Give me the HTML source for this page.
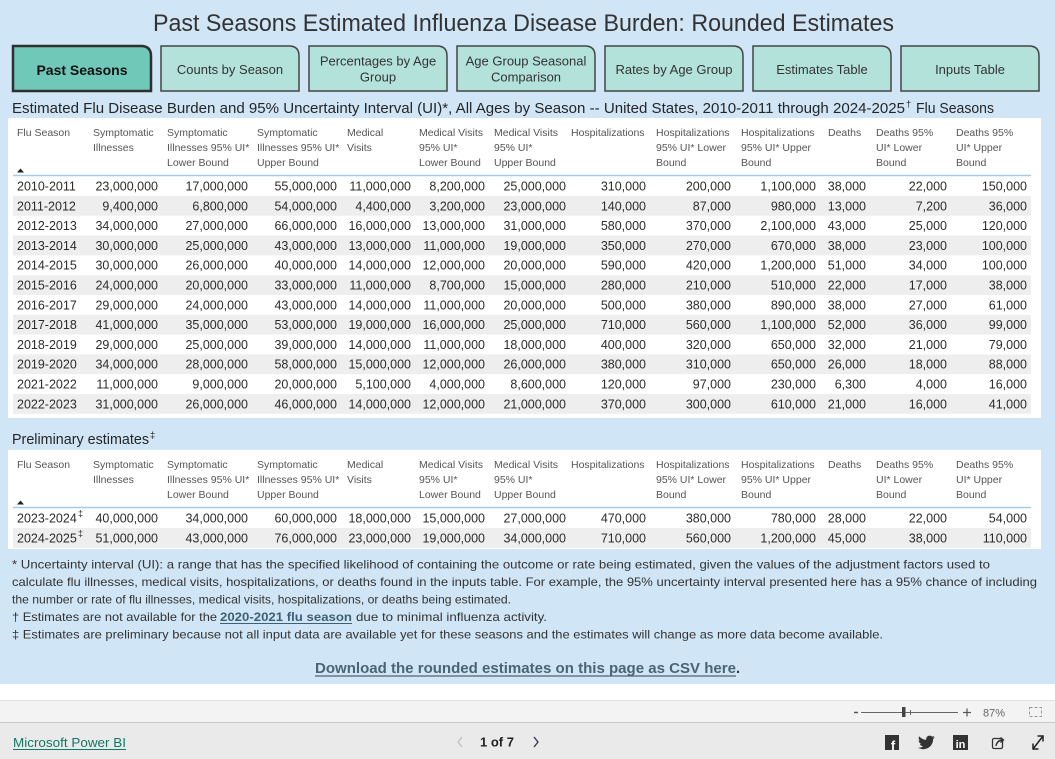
<!DOCTYPE html>
<html><head><meta charset="utf-8">
<style>
html,body{margin:0;padding:0;background:#fff;}
svg{display:block;}
text{font-family:"Liberation Sans",sans-serif;}
.h{font-size:10.5px;fill:#555;}
.d{font-size:12.5px;fill:#2b2b2b;}
.tab{font-size:13px;fill:#333;}
.fn{font-size:12px;fill:#333;}
</style></head><body>
<svg width="1055" height="759" viewBox="0 0 1055 759" xmlns="http://www.w3.org/2000/svg">
<rect x="0" y="0" width="1055" height="684" fill="#D0E5F5"/>
<rect x="0" y="684" width="1055" height="16" fill="#FFFFFF"/>
<rect x="0" y="700" width="1055" height="22" fill="#F3F3F3"/>
<line x1="0" y1="700.5" x2="1055" y2="700.5" stroke="#E0E0E0"/>
<line x1="0" y1="722.5" x2="1055" y2="722.5" stroke="#C8C8C8"/>
<rect x="0" y="723" width="1055" height="36" fill="#EAEAEA"/>

<!-- Title -->
<text x="153" y="31" font-size="24" fill="#333" textLength="741" lengthAdjust="spacingAndGlyphs">Past Seasons Estimated Influenza Disease Burden: Rounded Estimates</text>

<!-- Tabs -->
<path d="M13 46 H141 Q151 46 151 56 V91 H13 Z" fill="#70C8B8" stroke="#2f2f2f" stroke-width="2.5"/>
<path d="M161 46 H289 Q299 46 299 56 V91 H161 Z" fill="#B3E2DA" stroke="#444" stroke-width="1.5"/>
<path d="M309 46 H437 Q447 46 447 56 V91 H309 Z" fill="#B3E2DA" stroke="#444" stroke-width="1.5"/>
<path d="M457 46 H585 Q595 46 595 56 V91 H457 Z" fill="#B3E2DA" stroke="#444" stroke-width="1.5"/>
<path d="M605 46 H733 Q743 46 743 56 V91 H605 Z" fill="#B3E2DA" stroke="#444" stroke-width="1.5"/>
<path d="M753 46 H881 Q891 46 891 56 V91 H753 Z" fill="#B3E2DA" stroke="#444" stroke-width="1.5"/>
<path d="M901 46 H1029 Q1039 46 1039 56 V91 H901 Z" fill="#B3E2DA" stroke="#444" stroke-width="1.5"/>
<text x="82" y="75" font-size="14" font-weight="bold" fill="#111" text-anchor="middle">Past Seasons</text>
<g class="tab" text-anchor="middle">
<text x="230" y="74">Counts by Season</text>
<text x="378" y="65.5">Percentages by Age</text>
<text x="378" y="81.5">Group</text>
<text x="526" y="65.5">Age Group Seasonal</text>
<text x="526" y="81.5">Comparison</text>
<text x="674" y="74">Rates by Age Group</text>
<text x="822" y="74">Estimates Table</text>
<text x="970" y="74">Inputs Table</text>
</g>

<!-- Subtitle -->
<text x="12" y="113" font-size="14.5" fill="#252525" textLength="893" lengthAdjust="spacingAndGlyphs">Estimated Flu Disease Burden and 95% Uncertainty Interval (UI)*, All Ages by Season -- United States, 2010-2011 through 2024-2025</text>
<text x="906" y="107" font-size="9.5" fill="#252525">†</text>
<text x="916" y="113" font-size="14.5" fill="#252525" textLength="78" lengthAdjust="spacingAndGlyphs">Flu Seasons</text>

<!-- Table 1 panel -->
<rect x="8" y="118" width="1033" height="300" fill="#FFFFFF"/>
<g class="h">
<text x="17" y="136">Flu Season</text>
<text x="93" y="136">Symptomatic</text><text x="93" y="151">Illnesses</text>
<text x="167" y="136">Symptomatic</text><text x="167" y="151">Illnesses 95% UI*</text><text x="167" y="166">Lower Bound</text>
<text x="257" y="136">Symptomatic</text><text x="257" y="151">Illnesses 95% UI*</text><text x="257" y="166">Upper Bound</text>
<text x="347" y="136">Medical</text><text x="347" y="151">Visits</text>
<text x="419" y="136">Medical Visits</text><text x="419" y="151">95% UI*</text><text x="419" y="166">Lower Bound</text>
<text x="494" y="136">Medical Visits</text><text x="494" y="151">95% UI*</text><text x="494" y="166">Upper Bound</text>
<text x="571" y="136">Hospitalizations</text>
<text x="656" y="136">Hospitalizations</text><text x="656" y="151">95% UI* Lower</text><text x="656" y="166">Bound</text>
<text x="741" y="136">Hospitalizations</text><text x="741" y="151">95% UI* Upper</text><text x="741" y="166">Bound</text>
<text x="828" y="136">Deaths</text>
<text x="876" y="136">Deaths 95%</text><text x="876" y="151">UI* Lower</text><text x="876" y="166">Bound</text>
<text x="956" y="136">Deaths 95%</text><text x="956" y="151">UI* Upper</text><text x="956" y="166">Bound</text>
</g>
<polygon points="17,172.5 24,172.5 20.5,168.5" fill="#222"/>
<line x1="13" y1="175.5" x2="1031" y2="175.5" stroke="#A6CBEA" stroke-width="1.6"/>
<g fill="#EEEEEE">
<rect x="13" y="196" width="1018" height="19.8"/>
<rect x="13" y="235.6" width="1018" height="19.8"/>
<rect x="13" y="275.2" width="1018" height="19.8"/>
<rect x="13" y="314.8" width="1018" height="19.8"/>
<rect x="13" y="354.4" width="1018" height="19.8"/>
<rect x="13" y="394" width="1018" height="19.8"/>
</g>
<g class="d" text-anchor="end">
<g transform="translate(0,190.5)"><text x="17" text-anchor="start">2010-2011</text><text x="158">23,000,000</text><text x="248">17,000,000</text><text x="337">55,000,000</text><text x="411">11,000,000</text><text x="485">8,200,000</text><text x="566">25,000,000</text><text x="646">310,000</text><text x="731">200,000</text><text x="816">1,100,000</text><text x="866">38,000</text><text x="947">22,000</text><text x="1027">150,000</text></g>
<g transform="translate(0,210.3)"><text x="17" text-anchor="start">2011-2012</text><text x="158">9,400,000</text><text x="248">6,800,000</text><text x="337">54,000,000</text><text x="411">4,400,000</text><text x="485">3,200,000</text><text x="566">23,000,000</text><text x="646">140,000</text><text x="731">87,000</text><text x="816">980,000</text><text x="866">13,000</text><text x="947">7,200</text><text x="1027">36,000</text></g>
<g transform="translate(0,230.1)"><text x="17" text-anchor="start">2012-2013</text><text x="158">34,000,000</text><text x="248">27,000,000</text><text x="337">66,000,000</text><text x="411">16,000,000</text><text x="485">13,000,000</text><text x="566">31,000,000</text><text x="646">580,000</text><text x="731">370,000</text><text x="816">2,100,000</text><text x="866">43,000</text><text x="947">25,000</text><text x="1027">120,000</text></g>
<g transform="translate(0,249.9)"><text x="17" text-anchor="start">2013-2014</text><text x="158">30,000,000</text><text x="248">25,000,000</text><text x="337">43,000,000</text><text x="411">13,000,000</text><text x="485">11,000,000</text><text x="566">19,000,000</text><text x="646">350,000</text><text x="731">270,000</text><text x="816">670,000</text><text x="866">38,000</text><text x="947">23,000</text><text x="1027">100,000</text></g>
<g transform="translate(0,269.7)"><text x="17" text-anchor="start">2014-2015</text><text x="158">30,000,000</text><text x="248">26,000,000</text><text x="337">40,000,000</text><text x="411">14,000,000</text><text x="485">12,000,000</text><text x="566">20,000,000</text><text x="646">590,000</text><text x="731">420,000</text><text x="816">1,200,000</text><text x="866">51,000</text><text x="947">34,000</text><text x="1027">100,000</text></g>
<g transform="translate(0,289.5)"><text x="17" text-anchor="start">2015-2016</text><text x="158">24,000,000</text><text x="248">20,000,000</text><text x="337">33,000,000</text><text x="411">11,000,000</text><text x="485">8,700,000</text><text x="566">15,000,000</text><text x="646">280,000</text><text x="731">210,000</text><text x="816">510,000</text><text x="866">22,000</text><text x="947">17,000</text><text x="1027">38,000</text></g>
<g transform="translate(0,309.3)"><text x="17" text-anchor="start">2016-2017</text><text x="158">29,000,000</text><text x="248">24,000,000</text><text x="337">43,000,000</text><text x="411">14,000,000</text><text x="485">11,000,000</text><text x="566">20,000,000</text><text x="646">500,000</text><text x="731">380,000</text><text x="816">890,000</text><text x="866">38,000</text><text x="947">27,000</text><text x="1027">61,000</text></g>
<g transform="translate(0,329.1)"><text x="17" text-anchor="start">2017-2018</text><text x="158">41,000,000</text><text x="248">35,000,000</text><text x="337">53,000,000</text><text x="411">19,000,000</text><text x="485">16,000,000</text><text x="566">25,000,000</text><text x="646">710,000</text><text x="731">560,000</text><text x="816">1,100,000</text><text x="866">52,000</text><text x="947">36,000</text><text x="1027">99,000</text></g>
<g transform="translate(0,348.9)"><text x="17" text-anchor="start">2018-2019</text><text x="158">29,000,000</text><text x="248">25,000,000</text><text x="337">39,000,000</text><text x="411">14,000,000</text><text x="485">11,000,000</text><text x="566">18,000,000</text><text x="646">400,000</text><text x="731">320,000</text><text x="816">650,000</text><text x="866">32,000</text><text x="947">21,000</text><text x="1027">79,000</text></g>
<g transform="translate(0,368.7)"><text x="17" text-anchor="start">2019-2020</text><text x="158">34,000,000</text><text x="248">28,000,000</text><text x="337">58,000,000</text><text x="411">15,000,000</text><text x="485">12,000,000</text><text x="566">26,000,000</text><text x="646">380,000</text><text x="731">310,000</text><text x="816">650,000</text><text x="866">26,000</text><text x="947">18,000</text><text x="1027">88,000</text></g>
<g transform="translate(0,388.5)"><text x="17" text-anchor="start">2021-2022</text><text x="158">11,000,000</text><text x="248">9,000,000</text><text x="337">20,000,000</text><text x="411">5,100,000</text><text x="485">4,000,000</text><text x="566">8,600,000</text><text x="646">120,000</text><text x="731">97,000</text><text x="816">230,000</text><text x="866">6,300</text><text x="947">4,000</text><text x="1027">16,000</text></g>
<g transform="translate(0,408.3)"><text x="17" text-anchor="start">2022-2023</text><text x="158">31,000,000</text><text x="248">26,000,000</text><text x="337">46,000,000</text><text x="411">14,000,000</text><text x="485">12,000,000</text><text x="566">21,000,000</text><text x="646">370,000</text><text x="731">300,000</text><text x="816">610,000</text><text x="866">21,000</text><text x="947">16,000</text><text x="1027">41,000</text></g>
</g>

<!-- Preliminary -->
<text x="12" y="444" font-size="14.5" fill="#252525" textLength="137" lengthAdjust="spacingAndGlyphs">Preliminary estimates</text>
<text x="150" y="438" font-size="9.5" fill="#252525">‡</text>
<rect x="8" y="450" width="1033" height="99" fill="#FFFFFF"/>
<g class="h">
<text x="17" y="468">Flu Season</text>
<text x="93" y="468">Symptomatic</text><text x="93" y="483">Illnesses</text>
<text x="167" y="468">Symptomatic</text><text x="167" y="483">Illnesses 95% UI*</text><text x="167" y="498">Lower Bound</text>
<text x="257" y="468">Symptomatic</text><text x="257" y="483">Illnesses 95% UI*</text><text x="257" y="498">Upper Bound</text>
<text x="347" y="468">Medical</text><text x="347" y="483">Visits</text>
<text x="419" y="468">Medical Visits</text><text x="419" y="483">95% UI*</text><text x="419" y="498">Lower Bound</text>
<text x="494" y="468">Medical Visits</text><text x="494" y="483">95% UI*</text><text x="494" y="498">Upper Bound</text>
<text x="571" y="468">Hospitalizations</text>
<text x="656" y="468">Hospitalizations</text><text x="656" y="483">95% UI* Lower</text><text x="656" y="498">Bound</text>
<text x="741" y="468">Hospitalizations</text><text x="741" y="483">95% UI* Upper</text><text x="741" y="498">Bound</text>
<text x="828" y="468">Deaths</text>
<text x="876" y="468">Deaths 95%</text><text x="876" y="483">UI* Lower</text><text x="876" y="498">Bound</text>
<text x="956" y="468">Deaths 95%</text><text x="956" y="483">UI* Upper</text><text x="956" y="498">Bound</text>
</g>
<polygon points="17,504.5 24,504.5 20.5,500.5" fill="#222"/>
<line x1="13" y1="507.5" x2="1031" y2="507.5" stroke="#A6CBEA" stroke-width="1.6"/>
<rect x="13" y="528" width="1018" height="19.8" fill="#EEEEEE"/>
<g class="d" text-anchor="end">
<g transform="translate(0,522.5)"><text x="17" text-anchor="start">2023-2024</text><text x="78" y="-6" font-size="9" text-anchor="start">‡</text><text x="158">40,000,000</text><text x="248">34,000,000</text><text x="337">60,000,000</text><text x="411">18,000,000</text><text x="485">15,000,000</text><text x="566">27,000,000</text><text x="646">470,000</text><text x="731">380,000</text><text x="816">780,000</text><text x="866">28,000</text><text x="947">22,000</text><text x="1027">54,000</text></g>
<g transform="translate(0,542.3)"><text x="17" text-anchor="start">2024-2025</text><text x="78" y="-6" font-size="9" text-anchor="start">‡</text><text x="158">51,000,000</text><text x="248">43,000,000</text><text x="337">76,000,000</text><text x="411">23,000,000</text><text x="485">19,000,000</text><text x="566">34,000,000</text><text x="646">710,000</text><text x="731">560,000</text><text x="816">1,200,000</text><text x="866">45,000</text><text x="947">38,000</text><text x="1027">110,000</text></g>
</g>

<!-- Footnotes -->
<g class="fn">
<text x="12" y="568.5" textLength="978" lengthAdjust="spacingAndGlyphs">* Uncertainty interval (UI): a range that has the specified likelihood of containing the outcome or rate being estimated, given the values of the adjustment factors used to</text>
<text x="12" y="586" textLength="1025" lengthAdjust="spacingAndGlyphs">calculate flu illnesses, medical visits, hospitalizations, or deaths found in the inputs table. For example, the 95% uncertainty interval presented here has a 95% chance of including</text>
<text x="12" y="603.5" textLength="499" lengthAdjust="spacingAndGlyphs">the number or rate of flu illnesses, medical visits, hospitalizations, or deaths being estimated.</text>
<text x="12" y="621" textLength="205" lengthAdjust="spacingAndGlyphs">† Estimates are not available for the</text>
<text x="220" y="621" font-weight="bold" fill="#3F6074" textLength="132" lengthAdjust="spacingAndGlyphs">2020-2021 flu season</text>
<text x="356" y="621" textLength="191" lengthAdjust="spacingAndGlyphs">due to minimal influenza activity.</text>
<text x="12" y="638.5" textLength="871" lengthAdjust="spacingAndGlyphs">‡ Estimates are preliminary because not all input data are available yet for these seasons and the estimates will change as more data become available.</text>
</g>
<line x1="220" y1="623.5" x2="352" y2="623.5" stroke="#3F6074" stroke-width="1"/>

<!-- Download -->
<text x="315" y="673" font-size="14.5" font-weight="bold" fill="#4A6476" textLength="421" lengthAdjust="spacingAndGlyphs">Download the rounded estimates on this page as CSV here</text>
<text x="736" y="673" font-size="14.5" font-weight="bold" fill="#333">.</text>
<line x1="315" y1="676" x2="736" y2="676" stroke="#4A6476" stroke-width="1.2"/>

<!-- Zoom bar -->
<line x1="854" y1="712.5" x2="858" y2="712.5" stroke="#555" stroke-width="1.5"/>
<line x1="861" y1="712.5" x2="958" y2="712.5" stroke="#666" stroke-width="1"/>
<rect x="902" y="707" width="3.5" height="10" fill="#444"/>
<line x1="910.5" y1="710" x2="910.5" y2="715" stroke="#666" stroke-width="1"/>
<line x1="963" y1="712.5" x2="971" y2="712.5" stroke="#555" stroke-width="1.2"/>
<line x1="967" y1="708.5" x2="967" y2="716.5" stroke="#555" stroke-width="1.2"/>
<text x="983" y="716.5" font-size="11" fill="#666">87%</text>
<rect x="1029.5" y="707.5" width="12" height="9" fill="none" stroke="#999" stroke-width="1" stroke-dasharray="3,2"/>

<!-- Footer -->
<text x="13" y="747" font-size="13" fill="#117865" textLength="113" lengthAdjust="spacingAndGlyphs">Microsoft Power BI</text>
<line x1="13" y1="749.5" x2="126" y2="749.5" stroke="#117865" stroke-width="1"/>
<polyline points="462,737 458,742 462,747" fill="none" stroke="#bbb" stroke-width="1.2"/>
<text x="480" y="746.5" font-size="13" font-weight="bold" fill="#222">1 of 7</text>
<polyline points="534,737 538,742 534,747" fill="none" stroke="#334" stroke-width="1.3"/>

<!-- Icons -->
<rect x="885" y="735" width="14" height="15" fill="#333"/>
<text x="893" y="750" font-size="13" font-weight="bold" fill="#fff" text-anchor="middle">f</text>
<g transform="translate(918,734) scale(0.7)" fill="#333"><path d="M23.954 4.569c-.885.389-1.83.654-2.825.775 1.014-.611 1.794-1.574 2.163-2.723-.951.555-2.005.959-3.127 1.184-.896-.959-2.173-1.559-3.591-1.559-2.717 0-4.92 2.203-4.92 4.917 0 .39.045.765.127 1.124C7.691 8.094 4.066 6.13 1.64 3.161c-.427.722-.666 1.561-.666 2.475 0 1.71.87 3.213 2.188 4.096-.807-.026-1.566-.248-2.228-.616v.061c0 2.385 1.693 4.374 3.946 4.827-.413.111-.849.171-1.296.171-.314 0-.615-.03-.916-.086.631 1.953 2.445 3.377 4.604 3.417-1.680 1.319-3.809 2.105-6.102 2.105-.39 0-.779-.023-1.17-.067 2.189 1.394 4.768 2.209 7.557 2.209 9.054 0 13.999-7.496 13.999-13.986 0-.209 0-.42-.015-.63.961-.689 1.8-1.56 2.460-2.548l-.047-.02z"/></g>
<rect x="953" y="735" width="15" height="15" fill="#333"/>
<text x="960.5" y="748" font-size="11" font-weight="bold" fill="#fff" text-anchor="middle">in</text>
<rect x="992.5" y="738.5" width="10" height="10" rx="1.5" fill="none" stroke="#333" stroke-width="1.3"/>
<path d="M996 746 Q997 740 1003 740 M1000.5 737.5 L1003.5 740 L1000.5 742.5" fill="none" stroke="#333" stroke-width="1.4"/>
<line x1="1033" y1="749" x2="1043" y2="736" stroke="#222" stroke-width="1.5"/>
<polyline points="1037.5,736 1043,736 1043,741.5" fill="none" stroke="#222" stroke-width="1.5"/>
<polyline points="1033,743.5 1033,749 1038.5,749" fill="none" stroke="#222" stroke-width="1.5"/>
</svg>
</body></html>
